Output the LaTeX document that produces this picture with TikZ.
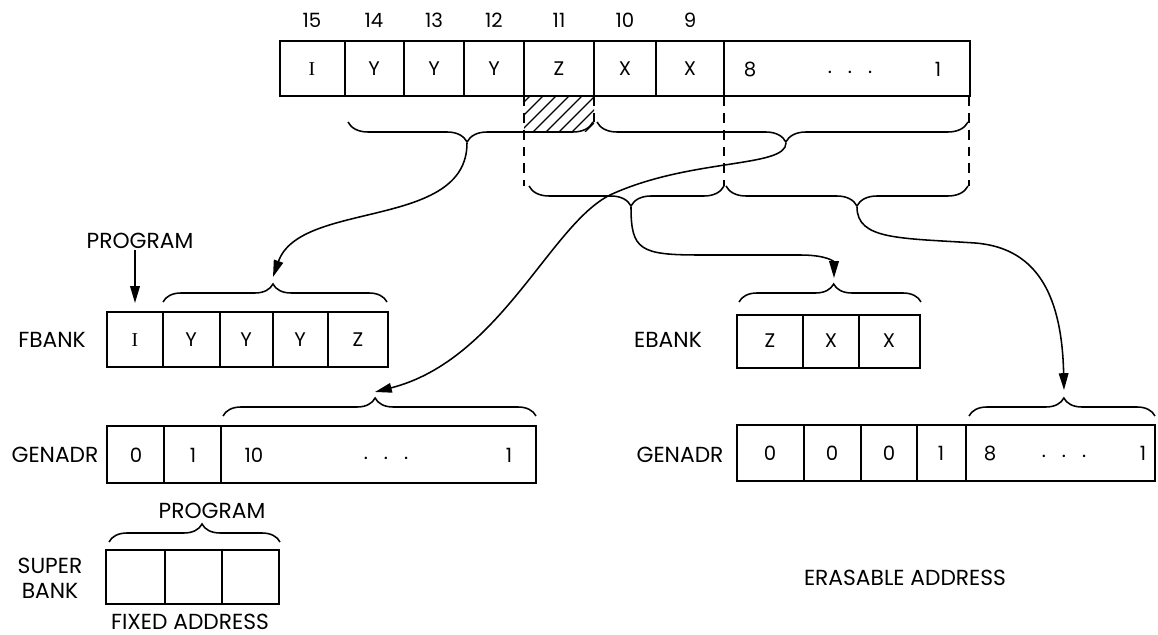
\documentclass[tikz,border=0pt]{standalone}
\usepackage{fontspec}
\setmainfont{Poppins}
\newfontfamily\bari{Liberation Serif}
\usetikzlibrary{arrows.meta,decorations.pathreplacing}
\tikzset{
  regbox/.style={draw,line width=1.1pt},
  bitlbl/.style={font=\fontsize{14}{16}\selectfont,inner sep=1pt},
  cellt/.style={font=\fontsize{14}{16}\selectfont,inner sep=1pt},
  regname/.style={font=\fontsize{15.5}{18}\selectfont,inner sep=1pt,align=center},
  brace-dn/.style={decorate,decoration={brace,mirror,amplitude=0.5cm,aspect=#1},line width=1.1pt},
  brace-dn/.default=0.5,
  brace-up/.style={decorate,decoration={brace,amplitude=0.45cm,aspect=#1},line width=1.1pt},
  brace-up/.default=0.5,
  flow/.style={-{Triangle[length=4.2mm,width=2.4mm]},line width=1.1pt},
  cut/.style={dash pattern=on 7pt off 5pt,line width=1pt},
  hatch/.style={line width=0.8pt},
}

\begin{document}
\begin{tikzpicture}[x=0.025cm,y=-0.025cm]
  \useasboundingbox (0,0) rectangle (1158,635);

  % INSTRUCTION WORD
  \foreach \n/\x in {15/312,14/374,13/434,12/494,11/559,10/625,9/690}
    \node[bitlbl] (b\n) at (\x,20) {\n};
  \draw[regbox] (280,41) rectangle (970,96);
  \foreach \x in {345,404,464,524,594,656,724}
    \draw[regbox] (\x,41) -- (\x,96);
  \node[cellt] (wI)  at (312,69) {\bari I};
  \node[cellt] (wY1) at (374,69) {Y};
  \node[cellt] (wY2) at (434,69) {Y};
  \node[cellt] (wY3) at (494,69) {Y};
  \node[cellt] (wZ)  at (559,69) {Z};
  \node[cellt] (wX1) at (625,69) {X};
  \node[cellt] (wX2) at (690,69) {X};
  \node[cellt] (w8)  at (750,69) {8};
  \node[cellt] (wdt) at (850,72) {.\hspace{4mm}.\hspace{4mm}.};
  \node[cellt] (w1)  at (938,69) {1};

  % hatched bit 11
  \begin{scope}
    \clip (524,96) rectangle (594,132);
    \foreach \k in {0,...,9}
      \draw[hatch] (494+\k*13,132) -- ++(60,-60);
  \end{scope}
  \draw[cut] (524,96) -- (524,186);
  \draw[cut] (594,96) -- (594,122);
  \draw[cut] (724,96) -- (724,186);
  \draw[cut] (969,96) -- (969,186);

  % split braces
  \draw[brace-dn=0.486] (348,122) -- (593,122);
  \draw[brace-dn=0.509] (597,122) -- (968,122);
  \draw[brace-dn=0.523] (529,186) -- (724,186);
  \draw[brace-dn=0.541] (726,186) -- (968,186);
  \coordinate (tA) at (467,143);
  \coordinate (tB) at (786,143);
  \coordinate (tC) at (631,207);
  \coordinate (tD) at (857,207);

  % FBANK
  \node[regname] (prog) at (140,241) {PROGRAM};
  \coordinate (pI) at (135,303);
  \draw[flow] (prog.south -| pI) -- (pI);
  \node[regname] (fbank) at (52,340) {FBANK};
  \draw[regbox] (107,312) rectangle (388,367);
  \foreach \x in {163,220,273,328}
    \draw[regbox] (\x,312) -- (\x,367);
  \node[cellt] (fI)  at (135,340) {\bari I};
  \node[cellt] (fY1) at (191,340) {Y};
  \node[cellt] (fY2) at (246,340) {Y};
  \node[cellt] (fY3) at (300,340) {Y};
  \node[cellt] (fZ)  at (358,340) {Z};
  \draw[brace-up=0.491] (163,302) -- (387,302);
  \coordinate (fT) at (273,277);

  % GENADR (fixed)
  \node[regname] (gadrL) at (55,455) {GENADR};
  \draw[regbox] (107,426) rectangle (536,483);
  \foreach \x in {164,221}
    \draw[regbox] (\x,426) -- (\x,483);
  \node[cellt] (gL0)  at (136,455) {0};
  \node[cellt] (gL1)  at (193,455) {1};
  \node[cellt] (gL10) at (254,455) {10};
  \node[cellt] (gLdt) at (386,458) {.\hspace{4mm}.\hspace{4mm}.};
  \node[cellt] (gLe)  at (509,455) {1};
  \draw[brace-up=0.486] (223,416) -- (536,416);
  \coordinate (gLT) at (375,392);

  % SUPER BANK
  \node[regname] (pgm2) at (212,511) {PROGRAM};
  \draw[brace-up=0.544] (109,542) -- (280,542);
  \node[regname] (sbank) at (50,578) {SUPER\\BANK};
  \draw[regbox] (106,550) rectangle (279,604);
  \foreach \x in {165,222}
    \draw[regbox] (\x,550) -- (\x,604);
  \node[regname] (fixad) at (190,622) {FIXED ADDRESS};

  % EBANK
  \node[regname] (ebank) at (668,340) {EBANK};
  \draw[regbox] (737,315) rectangle (920,368);
  \foreach \x in {803,859}
    \draw[regbox] (\x,315) -- (\x,368);
  \node[cellt] (eZ)  at (770,341) {Z};
  \node[cellt] (eX1) at (831,341) {X};
  \node[cellt] (eX2) at (889,341) {X};
  \draw[brace-up=0.52] (739,302) -- (921,302);
  \coordinate (eT) at (834,278);

  % GENADR (erasable)
  \node[regname] (gadrR) at (680,455) {GENADR};
  \draw[regbox] (737,425) rectangle (1155,481);
  \foreach \x in {804,861,917,966}
    \draw[regbox] (\x,425) -- (\x,481);
  \node[cellt] (gR0a) at (770,453) {0};
  \node[cellt] (gR0b) at (832,453) {0};
  \node[cellt] (gR0c) at (889,453) {0};
  \node[cellt] (gR1)  at (941,453) {1};
  \node[cellt] (gR8)  at (990,453) {8};
  \node[cellt] (gRdt) at (1064,456) {.\hspace{4mm}.\hspace{4mm}.};
  \node[cellt] (gRe)  at (1143,453) {1};
  \draw[brace-up=0.51] (969,416) -- (1155,416);
  \coordinate (gRT) at (1064,390);
  \node[regname] (erasad) at (905,578) {ERASABLE ADDRESS};

  % routing
  \draw[flow] (tA) .. controls (467,230) and (300,200) .. (fT);
  \draw[flow] (tB) .. controls (786,168) and (690,158) .. (610,195)
              .. controls (550,225) and (500,360) .. (gLT);
  \draw[flow] (tC) .. controls (631,250) and (640,255) .. (700,255) -- (800,255)
              .. controls (828,255) and (834,262) .. (eT);
  \draw[flow] (tD) .. controls (857,240) and (900,238) .. (975,243)
              .. controls (1040,248) and (1062,300) .. (gRT);

\end{tikzpicture}
\end{document}
